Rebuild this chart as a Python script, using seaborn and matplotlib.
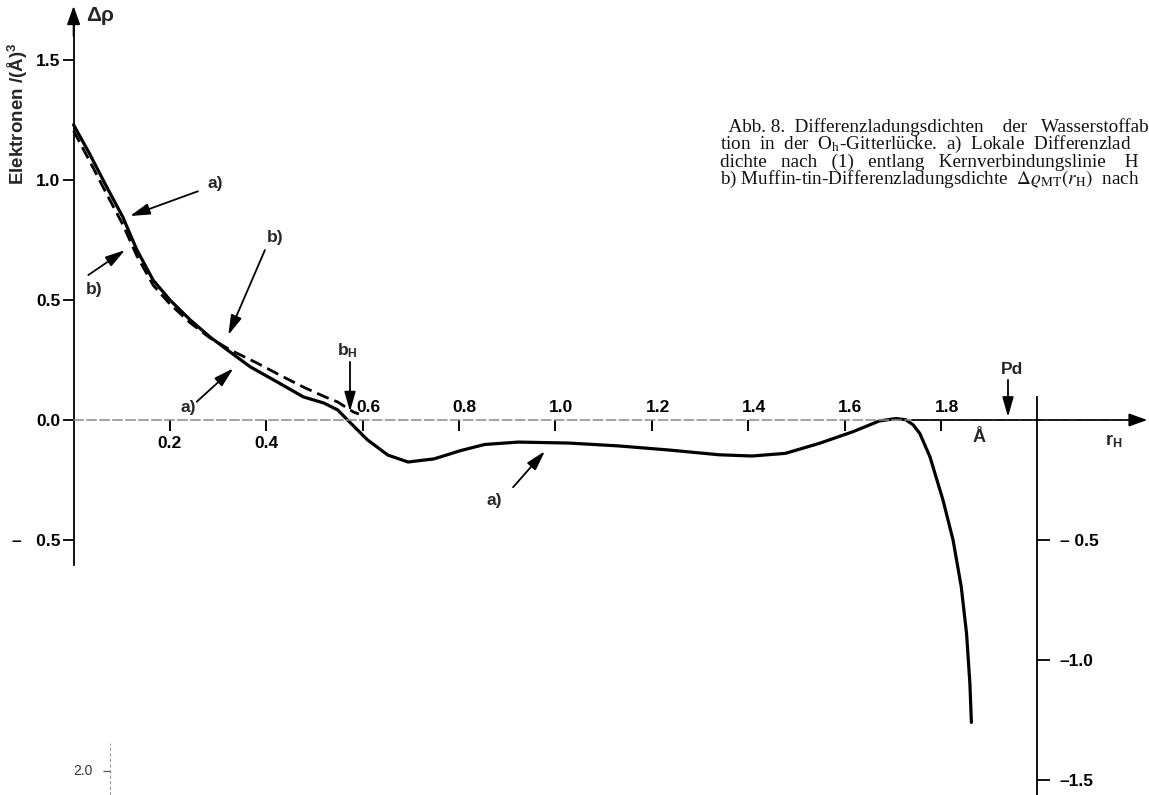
import matplotlib
matplotlib.use("Agg")
import matplotlib.pyplot as plt
import seaborn as sns

# Curve a): local difference charge density along the nuclear connection line
r_a = [0.0, 0.033, 0.069, 0.102, 0.131, 0.165, 0.2, 0.242, 0.283, 0.325, 0.367,
       0.423, 0.477, 0.519, 0.548, 0.575, 0.61, 0.652, 0.694, 0.748, 0.804, 0.853,
       0.923, 1.027, 1.131, 1.235, 1.34, 1.408, 1.477, 1.548, 1.617, 1.672, 1.706,
       1.727, 1.742, 1.756, 1.777, 1.804, 1.825, 1.842, 1.853, 1.860, 1.863]
rho_a = [1.23, 1.11, 0.97, 0.846, 0.71, 0.583, 0.5, 0.417, 0.346, 0.283, 0.221,
         0.158, 0.096, 0.071, 0.042, -0.013, -0.083, -0.146, -0.175, -0.162, -0.127, -0.102,
         -0.092, -0.096, -0.108, -0.125, -0.145, -0.15, -0.139, -0.097, -0.049, -0.004, 0.006,
         0.001, -0.02, -0.056, -0.153, -0.333, -0.5, -0.695, -0.89, -1.10, -1.26]

# Curve b): muffin-tin difference charge density
r_b = [0.0, 0.033, 0.069, 0.102, 0.131, 0.165, 0.2, 0.242, 0.283, 0.325, 0.381,
       0.43, 0.477, 0.52, 0.548, 0.581, 0.592]
rho_b = [1.205, 1.08, 0.94, 0.815, 0.685, 0.562, 0.483, 0.405, 0.342, 0.292, 0.237,
         0.185, 0.137, 0.098, 0.075, 0.033, 0.025]

xtick_vals = [0.2, 0.4, 0.6, 0.8, 1.0, 1.2, 1.4, 1.6, 1.8]
xtick_labels = ["0.2", "0.4", "0.6", "0.8", "1.0", "1.2", "1.4", "1.6", "1.8"]
left_yticks = [-0.5, 0.0, 0.5, 1.0, 1.5]
left_ylabels = ["\u2013   0.5", "0.0", "0.5", "1.0", "1.5"]
right_yticks = [-0.5, -1.0, -1.5]
right_ylabels = ["\u2013 0.5", "\u20131.0", "\u20131.5"]

r_bH = 0.5736   # boundary b_H
r_Pd = 1.939    # Pd position

caption = [
    "  Abb. 8.  Differenzladungsdichten    der   Wasserstoffab",
    "tion  in  der  O$_\\mathregular{h}$-Gitterl\u00fccke.  a)  Lokale  Differenzlad",
    "dichte   nach   (1)   entlang   Kernverbindungslinie    H",
    "b) Muffin-tin-Differenzladungsdichte  $\\Delta\\varrho_{\\mathrm{MT}}(r_{\\mathrm{H}})$  nach",
]

sns.set_theme(style="white")
plt.rcParams["font.family"] = ["Liberation Sans", "DejaVu Sans"]
plt.rcParams["mathtext.fontset"] = "stix"

fig = plt.figure(figsize=(11.49, 7.95), dpi=100)
ax = fig.add_axes([0, 0, 1, 1])

sns.lineplot(x=r_a, y=rho_a, ax=ax, color="black", linewidth=2.3,
             sort=False, estimator=None)
sns.lineplot(x=r_b, y=rho_b, ax=ax, color="black", linewidth=2.0,
             sort=False, estimator=None, linestyle=(0, (4.5, 2.2)))

ax.set_xlim(-0.1527, 2.2316)
ax.set_ylim(-1.5625, 1.75)
ax.set_xlabel("")
ax.set_ylabel("")
ax.patch.set_alpha(0)

# Axes crossing at the origin
for s in ["top", "right"]:
    ax.spines[s].set_visible(False)
ax.spines["left"].set_position(("data", 0))
ax.spines["left"].set_bounds(-0.604, 1.70)
ax.spines["left"].set_color("black")
ax.spines["left"].set_linewidth(1.3)
ax.spines["bottom"].set_position(("data", 0))
ax.spines["bottom"].set_bounds(0, 2.2)
ax.spines["bottom"].set_color("#8a8a8a")
ax.spines["bottom"].set_linewidth(1.1)
ax.spines["bottom"].set_linestyle((0, (6, 2.5)))

ax.annotate("", xy=(0, 1.725), xytext=(0, 1.6),
            arrowprops=dict(arrowstyle="-|>,head_length=0.7,head_width=0.25",
                            color="black", lw=1.3, mutation_scale=16,
                            shrinkA=0, shrinkB=0))
ax.annotate("", xy=(2.228, 0), xytext=(1.74, 0),
            arrowprops=dict(arrowstyle="-|>,head_length=0.7,head_width=0.25",
                            color="black", lw=1.2, mutation_scale=16,
                            shrinkA=0, shrinkB=0))

ax.set_xticks(xtick_vals)
ax.set_xticklabels([])
ax.tick_params(axis="x", bottom=True, direction="out", length=8, width=1.4,
               color="black")
ax.set_yticks(left_yticks, labels=left_ylabels)
ax.tick_params(axis="y", left=True, direction="out", length=8, width=1.3,
               pad=1.5, labelsize=12.5, color="black", labelcolor="black")
for lbl in ax.get_yticklabels():
    lbl.set_fontweight("bold")
ax.grid(False)

for v, lab in zip(xtick_vals, xtick_labels):
    below = v < 0.5
    ax.text(v + (0 if below else 0.012), -0.097 if below else 0.05, lab,
            ha="center", va="center", fontsize=12.5, fontweight="bold",
            color="black")

# Right-hand axis at r = 2.0
ax2 = ax.twinx()
ax2.set_ylim(ax.get_ylim())
for s in ["top", "left", "bottom"]:
    ax2.spines[s].set_visible(False)
ax2.spines["right"].set_position(("data", 2.0))
ax2.spines["right"].set_bounds(-1.5625, 0.096)
ax2.spines["right"].set_color("black")
ax2.spines["right"].set_linewidth(1.3)
ax2.set_yticks(right_yticks, labels=right_ylabels)
ax2.tick_params(axis="y", right=True, direction="out", length=9, width=1.3,
                pad=7, labelsize=12.5, color="black", labelcolor="black")
for lbl in ax2.get_yticklabels():
    lbl.set_fontweight("bold")
ax2.grid(False)

# Axis titles
ax.text(-0.115, 1.275, "Elektronen /(\u00c5)$^\\mathregular{3}$", rotation=90,
        ha="center", va="center", fontsize=13.5, fontweight="bold")
ax.text(0.054, 1.685, "\u0394\u03c1", ha="center", va="center", fontsize=15,
        fontweight="bold")
ax.text(1.879, -0.075, "\u00c5", ha="center", va="center", fontsize=13,
        fontweight="bold")
ax.text(2.159, -0.09, "r$_\\mathregular{H}$", ha="center", va="center",
        fontsize=13, fontweight="bold")

# Labelled arrows
arrow_kw = dict(arrowstyle="-|>,head_length=0.6,head_width=0.17",
                color="black", lw=1.3, mutation_scale=20, shrinkA=0, shrinkB=0)


def pointer(label, text_xy, tail, head):
    ax.annotate("", xy=head, xytext=tail, arrowprops=arrow_kw)
    ax.text(*text_xy, label, ha="center", va="center", fontsize=12.5,
            fontweight="bold")


pointer("a)", (0.293, 0.985), (0.258, 0.953), (0.117, 0.85))
pointer("b)", (0.042, 0.542), (0.0305, 0.604), (0.1067, 0.708))
pointer("b)", (0.418, 0.762), (0.397, 0.708), (0.321, 0.354))
pointer("a)", (0.237, 0.052), (0.2555, 0.076), (0.3315, 0.215))
pointer("a)", (0.872, -0.335), (0.912, -0.28), (0.978, -0.13))

ax.annotate("", xy=(r_bH, 0.035), xytext=(r_bH, 0.242), arrowprops=arrow_kw)
ax.text(r_bH - 0.006, 0.29, "b$_\\mathregular{H}$", ha="center", va="center",
        fontsize=12.5, fontweight="bold")
ax.annotate("", xy=(r_Pd, 0.0125), xytext=(r_Pd, 0.167), arrowprops=arrow_kw)
ax.text(r_Pd + 0.008, 0.2125, "Pd", ha="center", va="center", fontsize=12.5,
        fontweight="bold")

# Caption block, set as one tightly leaded paragraph
ax.text(1.341, 1.258, "\n".join(caption), ha="left", va="top", fontsize=13.8,
        linespacing=0.88, family=["Liberation Serif", "DejaVu Serif"],
        color="#111111")

# Edge of a neighbouring scale at the lower left
ax.vlines(0.0755, -1.5625, -1.346, color="#9a9a9a", lw=0.8,
          linestyles=(0, (3, 2)))
ax.hlines(-1.4625, 0.062, 0.0755, color="#555555", lw=0.9)
ax.text(0.019, -1.4625, "2.0", ha="center", va="center", fontsize=10,
        color="#333333")

fig.savefig("out.png", dpi=100, facecolor="white")
